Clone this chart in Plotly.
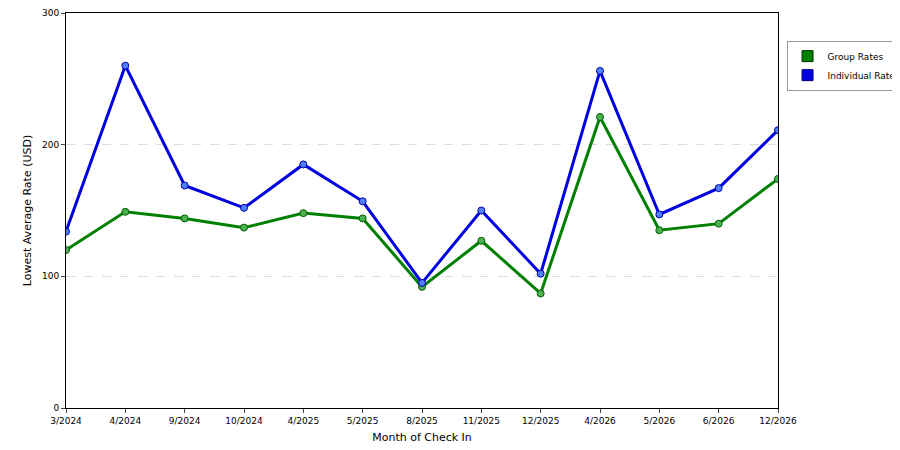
import plotly.graph_objects as go

months = ['3/2024', '4/2024', '9/2024', '10/2024', '4/2025', '5/2025', '8/2025',
          '11/2025', '12/2025', '4/2026', '5/2026', '6/2026', '12/2026']
group_rates = [120, 149, 144, 137, 148, 144, 92, 127, 87, 221, 135, 140, 174]
individual_rates = [134, 260, 169, 152, 185, 157, 95, 150, 102, 256, 147, 167, 211]

fig = go.Figure()
series = [('Group Rates', group_rates, '#008000', '#4caf50', '#006000'),
          ('Individual Rates', individual_rates, '#0000e0', '#4d7fff', '#0000a0')]
for name, vals, lc, mc, ec in series:
    fig.add_trace(go.Scatter(
        x=months, y=vals, name=name, mode='lines+markers', showlegend=False,
        line=dict(color=lc, width=3),
        marker=dict(size=7, color=mc, line=dict(color=ec, width=1)),
    ))
    # square swatch for the legend
    fig.add_trace(go.Scatter(
        x=[None], y=[None], name=name, mode='markers',
        marker=dict(symbol='square', size=11, color=lc, line=dict(color='#003000' if lc == '#008000' else '#000080', width=1)),
    ))

fig.update_layout(
    width=900, height=450,
    margin=dict(l=58, r=130, t=5, b=50, autoexpand=False),
    plot_bgcolor='white', paper_bgcolor='white',
    font=dict(family='DejaVu Sans', size=9, color='black'),
    legend=dict(x=1.012, y=0.93, xanchor='left', yanchor='top',
                bordercolor='#999999', borderwidth=1, font=dict(size=9),
                itemsizing='trace', tracegroupgap=2),
)
fig.update_xaxes(
    title=dict(text='Month of Check In', standoff=8), type='category',
    range=[0, 12], showline=True, linecolor='black', mirror=True,
    ticks='outside', ticklen=4, showgrid=False, automargin=False,
)
fig.update_yaxes(
    title=dict(text='Lowest Average Rate (USD)', standoff=8),
    range=[0, 300], dtick=100, showline=True, linecolor='black', mirror=True,
    ticks='outside', ticklen=4, gridcolor='#dddddd', griddash='dash',
    zeroline=False, automargin=False,
)

fig.write_html('out.html')
